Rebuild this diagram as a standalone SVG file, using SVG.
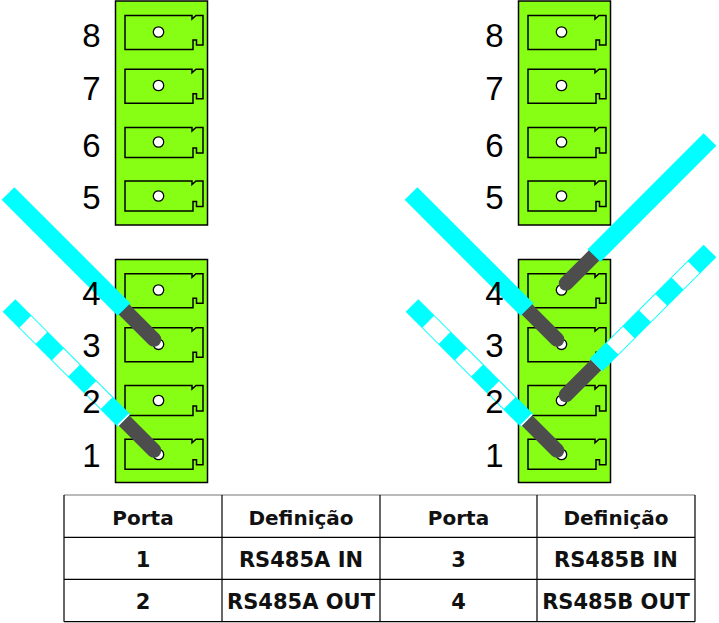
<svg xmlns="http://www.w3.org/2000/svg" xmlns:xlink="http://www.w3.org/1999/xlink" width="719" height="623" viewBox="0 0 719 623">
  <style>
    .blk{fill:#86FF14;stroke:#000;stroke-width:1.5}
    .slot{fill:none;stroke:#000;stroke-width:1.5;stroke-linejoin:miter}
    .hole{fill:#fff;stroke:#000;stroke-width:1.3}
    .num{font-family:"Liberation Sans",Arial,sans-serif;font-size:33px;fill:#000;text-anchor:middle}
    .cy{stroke:#00FFFF;stroke-width:18;stroke-linecap:butt;fill:none}
    .wh{stroke:#fff;stroke-width:16;stroke-linecap:butt;fill:none;stroke-dasharray:23 23;stroke-dashoffset:23}
    .gr{stroke:#4D4D4D;stroke-width:14.5;stroke-linecap:round;fill:none}
    .tl{stroke:#000;stroke-width:1.2;fill:none}
    .th{font-family:"DejaVu Sans",Verdana,sans-serif;font-size:20px;font-weight:bold;fill:#111;text-anchor:middle}
    .td{font-family:"DejaVu Sans",Verdana,sans-serif;font-size:21px;font-weight:bold;fill:#111;text-anchor:middle}
  </style>
  <defs>
    <path id="slotA" class="slot" d="M0,0 H67 V3.5 L71,0 H78 V29.5 H71.5 V24.5 H68 V34 H0 Z"/>
    <path id="slotB" class="slot" d="M0,0 H67 V3.5 L71,0 H78 V25.5 H71.5 V20.5 H68 V30 H0 Z"/>
  </defs>

  <!-- Left connector -->
  <g id="left-upper-block">
    <rect class="blk" x="115.5" y="1" width="92" height="224"/>
    <use xlink:href="#slotA" x="125" y="15.5"/>
    <use xlink:href="#slotA" x="125" y="69.3"/>
    <use xlink:href="#slotB" x="125" y="127.5"/>
    <use xlink:href="#slotB" x="125" y="181"/>
    <circle class="hole" cx="158.5" cy="32" r="5.2"/>
    <circle class="hole" cx="158.5" cy="85.5" r="5.2"/>
    <circle class="hole" cx="158.5" cy="142" r="5.2"/>
    <circle class="hole" cx="158.5" cy="196" r="5.2"/>
  </g>
  <g id="left-lower-block">
    <rect class="blk" x="115.5" y="259.5" width="92" height="223"/>
    <use xlink:href="#slotA" x="125" y="273.8"/>
    <use xlink:href="#slotA" x="125" y="327.7"/>
    <use xlink:href="#slotB" x="125" y="385.5"/>
    <use xlink:href="#slotB" x="125" y="439.3"/>
    <circle class="hole" cx="158.5" cy="290" r="5.2"/>
    <circle class="hole" cx="158.5" cy="344.3" r="5.2"/>
    <circle class="hole" cx="158.5" cy="400.5" r="5.2"/>
    <circle class="hole" cx="158.5" cy="454.5" r="5.2"/>
  </g>

  <!-- Right connector -->
  <g id="right-upper-block">
    <rect class="blk" x="518.5" y="1" width="92" height="224"/>
    <use xlink:href="#slotA" x="528" y="15.5"/>
    <use xlink:href="#slotA" x="528" y="69.3"/>
    <use xlink:href="#slotB" x="528" y="127.5"/>
    <use xlink:href="#slotB" x="528" y="181"/>
    <circle class="hole" cx="561.5" cy="32" r="5.2"/>
    <circle class="hole" cx="561.5" cy="85.5" r="5.2"/>
    <circle class="hole" cx="561.5" cy="142" r="5.2"/>
    <circle class="hole" cx="561.5" cy="196" r="5.2"/>
  </g>
  <g id="right-lower-block">
    <rect class="blk" x="518.5" y="259.5" width="92" height="223"/>
    <use xlink:href="#slotA" x="528" y="273.8"/>
    <use xlink:href="#slotA" x="528" y="327.7"/>
    <use xlink:href="#slotB" x="528" y="385.5"/>
    <use xlink:href="#slotB" x="528" y="439.3"/>
    <circle class="hole" cx="561.5" cy="290" r="5.2"/>
    <circle class="hole" cx="561.5" cy="344.3" r="5.2"/>
    <circle class="hole" cx="561.5" cy="400.5" r="5.2"/>
    <circle class="hole" cx="561.5" cy="454.5" r="5.2"/>
  </g>

  <!-- Wires -->
  <g id="connectors">
    <!-- left: solid to 3 -->
    <line class="gr" x1="124" y1="309.5" x2="154" y2="339.5"/>
    <line class="cy" x1="8" y1="193.5" x2="124" y2="309.5"/>
    <!-- left: striped to 1 -->
    <line class="gr" x1="124" y1="420.5" x2="154" y2="450.5"/>
    <line class="cy" x1="9" y1="305.5" x2="124" y2="420.5"/>
    <line class="wh" x1="9" y1="305.5" x2="124" y2="420.5"/>
    <!-- right: solid to 3 -->
    <line class="gr" x1="527" y1="309.5" x2="557" y2="339.5"/>
    <line class="cy" x1="411" y1="193.5" x2="527" y2="309.5"/>
    <!-- right: striped to 1 -->
    <line class="gr" x1="527" y1="420.5" x2="557" y2="450.5"/>
    <line class="cy" x1="412" y1="305.5" x2="527" y2="420.5"/>
    <line class="wh" x1="412" y1="305.5" x2="527" y2="420.5"/>
    <!-- right: solid to 4 -->
    <line class="gr" x1="594" y1="255.5" x2="566" y2="283.5"/>
    <line class="cy" x1="710" y1="139.5" x2="594" y2="255.5"/>
    <!-- right: striped to 2 -->
    <line class="gr" x1="596" y1="365" x2="566" y2="395"/>
    <line class="cy" x1="710" y1="251" x2="596" y2="365"/>
    <line class="wh" x1="710" y1="251" x2="596" y2="365"/>
  </g>

  <!-- Labels -->
  <g id="left-labels">
    <text class="num" x="91.5" y="47">8</text>
    <text class="num" x="91.5" y="100">7</text>
    <text class="num" x="91.5" y="157">6</text>
    <text class="num" x="91.5" y="209">5</text>
    <text class="num" x="91.5" y="305">4</text>
    <text class="num" x="91.5" y="357">3</text>
    <text class="num" x="91.5" y="413">2</text>
    <text class="num" x="91.5" y="467">1</text>
  </g>
  <g id="right-labels">
    <text class="num" x="494.5" y="47">8</text>
    <text class="num" x="494.5" y="100">7</text>
    <text class="num" x="494.5" y="157">6</text>
    <text class="num" x="494.5" y="209">5</text>
    <text class="num" x="494.5" y="305">4</text>
    <text class="num" x="494.5" y="357">3</text>
    <text class="num" x="494.5" y="413">2</text>
    <text class="num" x="494.5" y="467">1</text>
  </g>

  <!-- Table -->
  <g id="table">
    <line x1="64" y1="495" x2="695" y2="495" stroke="#777" stroke-width="1.2"/>
    <line class="tl" x1="64" y1="537.3" x2="695" y2="537.3"/>
    <line class="tl" x1="64" y1="579.3" x2="695" y2="579.3"/>
    <line class="tl" x1="64" y1="621.7" x2="695" y2="621.7"/>
    <line class="tl" x1="64" y1="495" x2="64" y2="621.7"/>
    <line class="tl" x1="222" y1="495" x2="222" y2="621.7"/>
    <line class="tl" x1="380" y1="495" x2="380" y2="621.7"/>
    <line class="tl" x1="537" y1="495" x2="537" y2="621.7"/>
    <line class="tl" x1="695" y1="495" x2="695" y2="621.7"/>
    <text class="th" x="143" y="525">Porta</text>
    <text class="th" x="301" y="525">Definição</text>
    <text class="th" x="458.5" y="525">Porta</text>
    <text class="th" x="616" y="525">Definição</text>
    <text class="td" x="143" y="567.3">1</text>
    <text class="td" x="301" y="567.3">RS485A IN</text>
    <text class="td" x="458.5" y="567.3">3</text>
    <text class="td" x="616" y="567.3">RS485B IN</text>
    <text class="td" x="143" y="609">2</text>
    <text class="td" x="301" y="609">RS485A OUT</text>
    <text class="td" x="458.5" y="609">4</text>
    <text class="td" x="616" y="609">RS485B OUT</text>
  </g>
</svg>
